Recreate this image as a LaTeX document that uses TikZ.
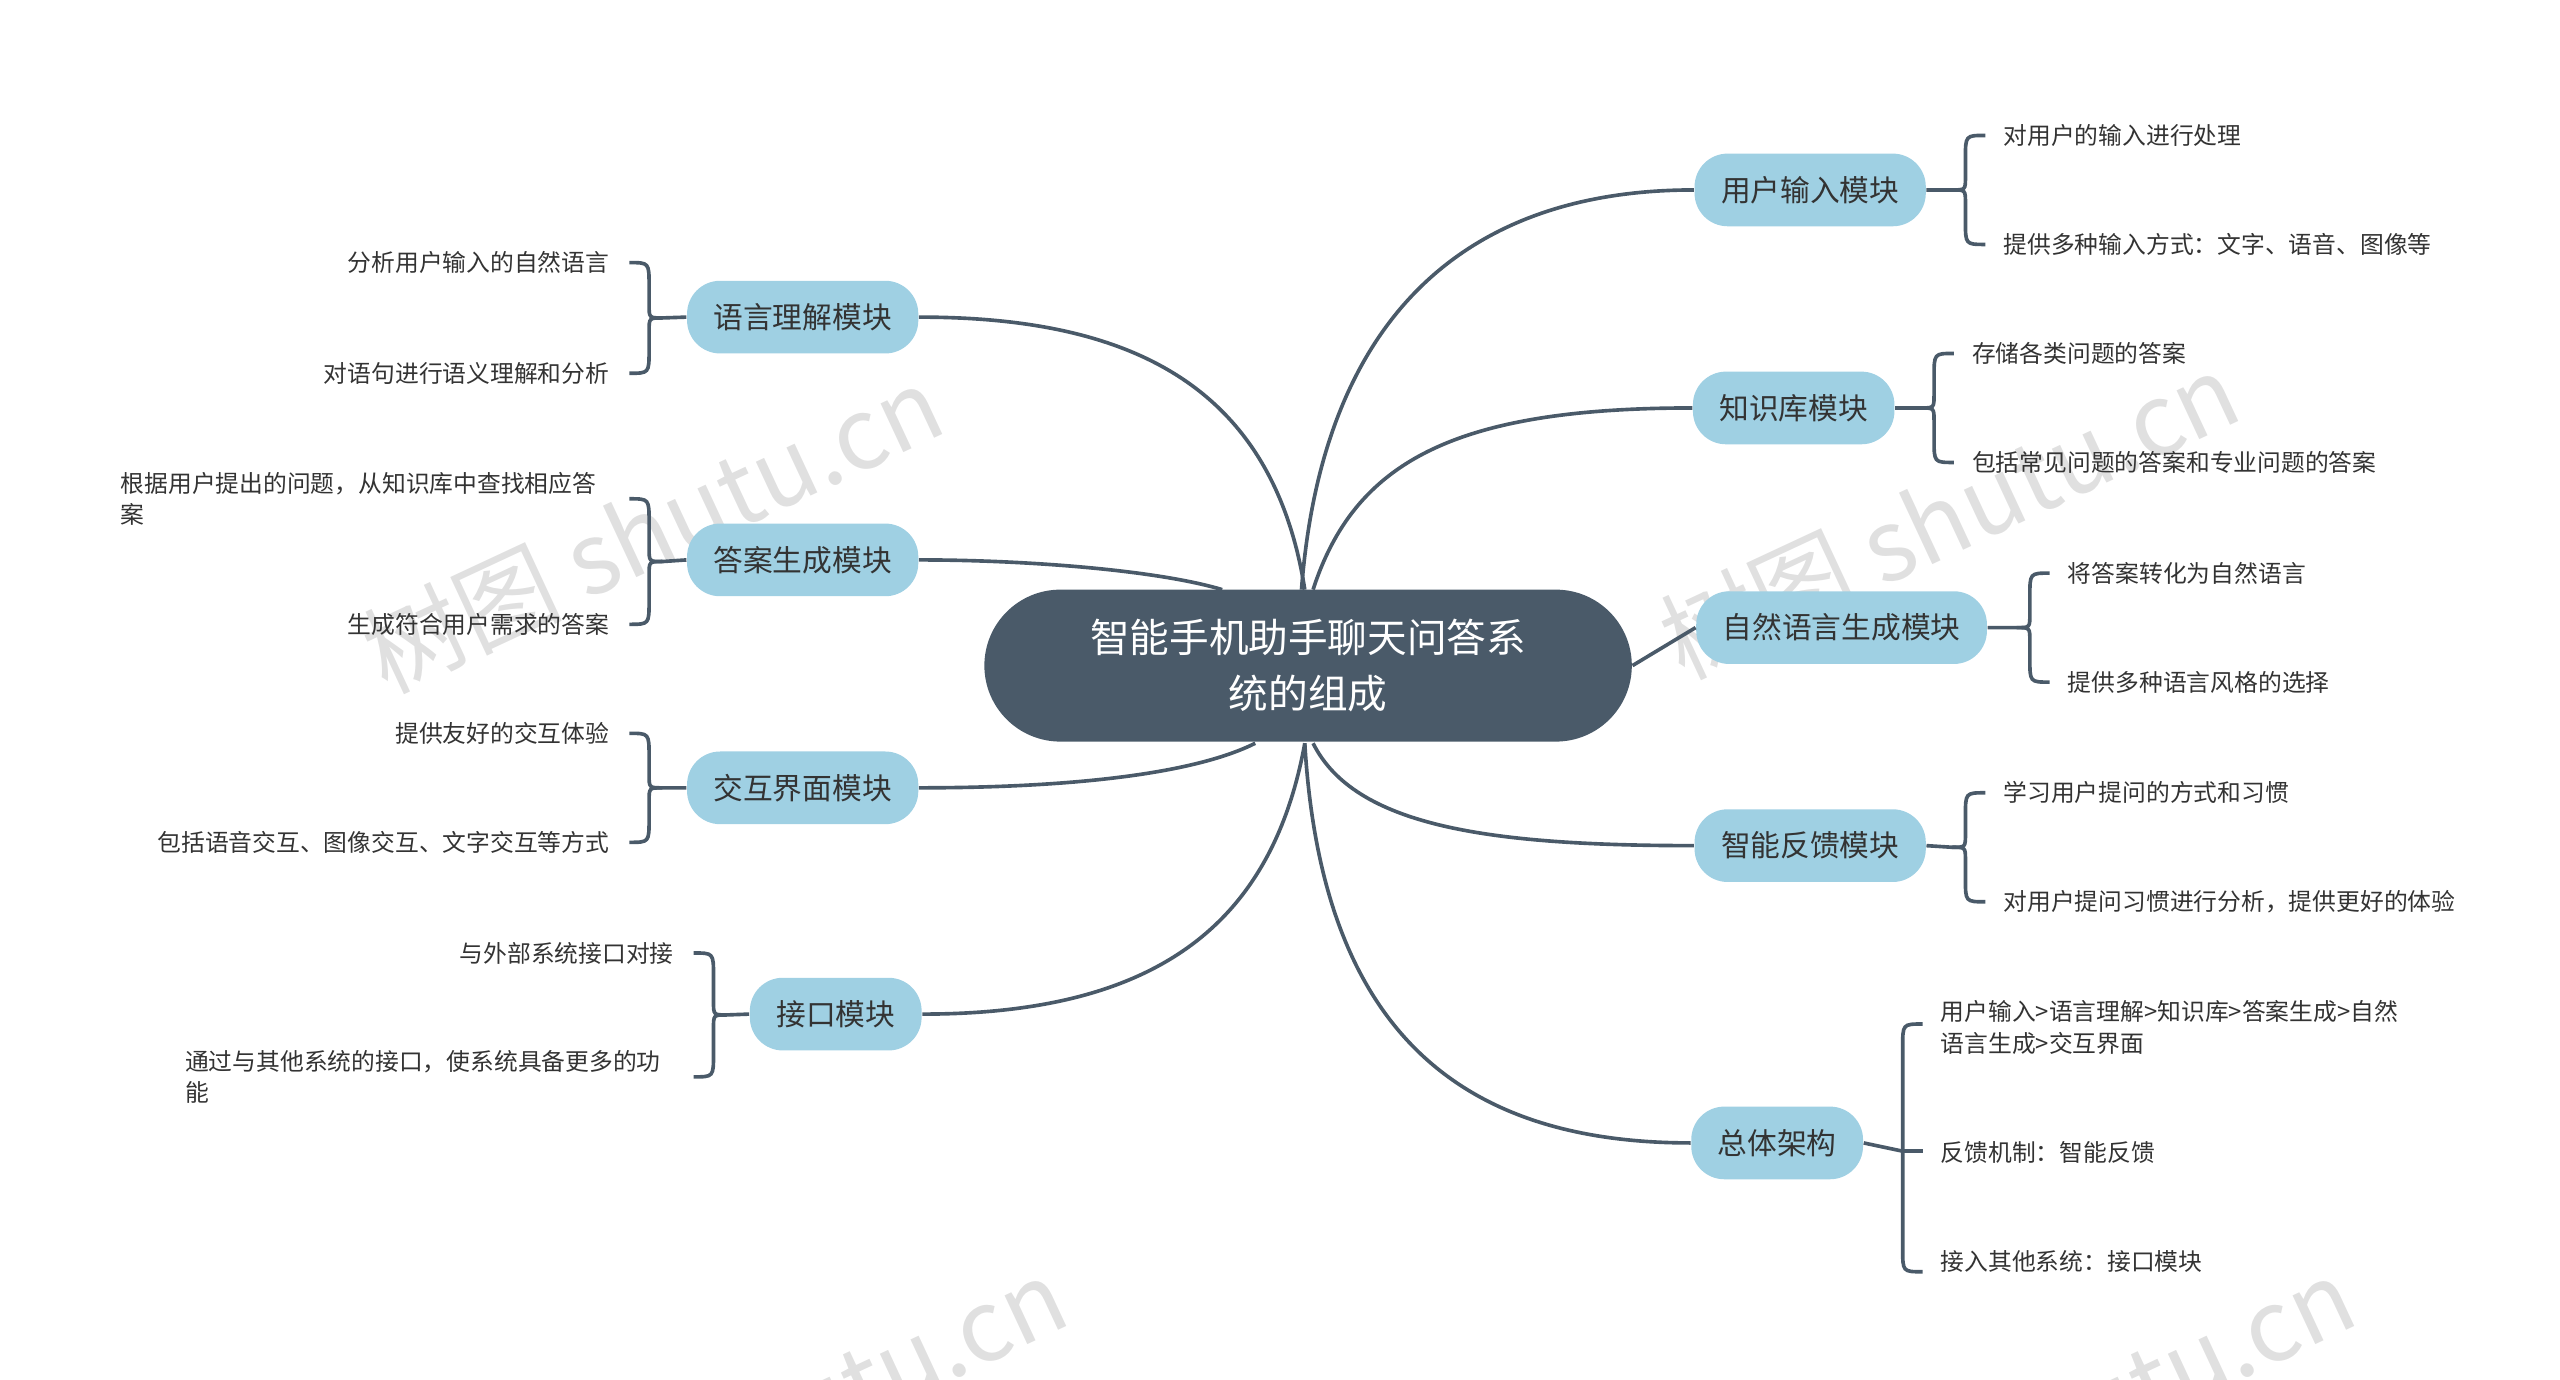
\documentclass[tikz,border=0pt]{standalone}
\usepackage{fontspec}
\setmainfont{Noto Sans CJK SC}
\usetikzlibrary{calc}
\definecolor{ln}{HTML}{4A5A69}
\definecolor{br}{HTML}{9FD0E3}
\definecolor{tx}{HTML}{333333}
\tikzset{
  conn/.style={draw=ln,line width=1.1pt},
  branch/.style={fill=br,rounded corners=10pt,minimum height=22pt,inner xsep=8pt,font=\fontsize{9}{11}\selectfont,text=tx},
  leafr/.style={anchor=west,font=\fontsize{7.2}{9.5}\selectfont,text=tx,align=left},
  leafl/.style={anchor=east,font=\fontsize{7.2}{9.5}\selectfont,text=tx,align=left},
  wm/.style={text=black!12,font=\fontsize{30}{30}\selectfont,rotate=25}
}
\newcommand\rbr[4]{%
 \pgfmathsetmacro\ym{(#3+#4)/2}
 \draw[conn] (#2+12,#3) .. controls (#2,#3) .. (#2,#3+14) -- (#2,\ym-8) .. controls (#2,\ym) .. (#2-8,\ym) -- (#1.east);
 \draw[conn] (#2+12,#4) .. controls (#2,#4) .. (#2,#4-14) -- (#2,\ym+8) .. controls (#2,\ym) .. (#2-8,\ym);}
\newcommand\lbr[4]{%
 \pgfmathsetmacro\ym{(#3+#4)/2}
 \draw[conn] (#2-12,#3) .. controls (#2,#3) .. (#2,#3+14) -- (#2,\ym-8) .. controls (#2,\ym) .. (#2+8,\ym) -- (#1.west);
 \draw[conn] (#2-12,#4) .. controls (#2,#4) .. (#2,#4-14) -- (#2,\ym+8) .. controls (#2,\ym) .. (#2+8,\ym);}
\begin{document}
\begin{tikzpicture}[x=0.5pt,y=-0.5pt]
\useasboundingbox (0,0) rectangle (1550,835);
\clip (0,0) rectangle (1550,835);
\node[wm] (w1) at (395,320) {树图 shutu.cn};
\node[wm] (w2) at (1180,312) {树图 shutu.cn};
\node[wm] (w3) at (470,860) {树图 shutu.cn};
\node[wm] (w4) at (1250,860) {树图 shutu.cn};
\node[fill=ln,rounded corners=23pt,minimum width=196pt,minimum height=46pt,text=white,align=center,font=\fontsize{12}{17}\selectfont] (c) at (792,403) {智能手机助手聊天问答系\\统的组成};
\node[branch] (r1) at (1096,115) {用户输入模块};
\node[branch] (r2) at (1086,247) {知识库模块};
\node[branch] (r3) at (1115,380) {自然语言生成模块};
\node[branch] (r4) at (1096,512) {智能反馈模块};
\node[branch] (r5) at (1076,692) {总体架构};
\node[branch] (l1) at (486,192) {语言理解模块};
\node[branch] (l2) at (486,339) {答案生成模块};
\node[branch] (l3) at (486,477) {交互界面模块};
\node[branch] (l4) at (506,614) {接口模块};
\draw[conn] (788,357) .. controls (800,200) and (880,115) .. (r1.west);
\draw[conn] (795,357) .. controls (820,280) and (880,247) .. (r2.west);
\draw[conn] (c.east) -- (r3.west);
\draw[conn] (795,450) .. controls (820,500) and (900,512) .. (r4.west);
\draw[conn] (790,450) .. controls (800,620) and (880,692) .. (r5.west);
\draw[conn] (790,357) .. controls (770,230) and (680,192) .. (l1.east);
\draw[conn] (740,357) .. controls (700,345) and (620,339) .. (l2.east);
\draw[conn] (760,450) .. controls (720,470) and (640,477) .. (l3.east);
\draw[conn] (790,450) .. controls (770,560) and (700,614) .. (l4.east);
\rbr{r1}{1190}{82}{148}
\rbr{r2}{1171}{214}{280}
\rbr{r3}{1229}{347}{413}
\rbr{r4}{1190}{480}{546}
\draw[conn] (r5.east) -- (1152,697);
\draw[conn] (1164,620) .. controls (1152,620) .. (1152,634) -- (1152,756) .. controls (1152,770) .. (1164,770);
\draw[conn] (1152,697) -- (1164,697);
\lbr{l1}{393}{159}{226}
\lbr{l2}{393}{302}{378}
\lbr{l3}{393}{444}{510}
\lbr{l4}{432}{577}{652}
\node[leafr] (a1) at (1206,82) {对用户的输入进行处理};
\node[leafr] (a2) at (1206,148) {提供多种输入方式：文字、语音、图像等};
\node[leafr] (b1) at (1187,214) {存储各类问题的答案};
\node[leafr] (b2) at (1187,280) {包括常见问题的答案和专业问题的答案};
\node[leafr] (d1) at (1245,347) {将答案转化为自然语言};
\node[leafr] (d2) at (1245,413) {提供多种语言风格的选择};
\node[leafr] (e1) at (1206,480) {学习用户提问的方式和习惯};
\node[leafr] (e2) at (1206,546) {对用户提问习惯进行分析，提供更好的体验};
\node[leafr] (f1) at (1168,622) {用户输入>语言理解>知识库>答案生成>自然\\语言生成>交互界面};
\node[leafr] (f2) at (1168,698) {反馈机制：智能反馈};
\node[leafr] (f3) at (1168,764) {接入其他系统：接口模块};
\node[leafl] (g1) at (376,159) {分析用户输入的自然语言};
\node[leafl] (g2) at (376,226) {对语句进行语义理解和分析};
\node[leafr] (h1) at (66,302) {根据用户提出的问题，从知识库中查找相应答\\案};
\node[leafl] (h2) at (376,378) {生成符合用户需求的答案};
\node[leafl] (i1) at (376,444) {提供友好的交互体验};
\node[leafl] (i2) at (376,510) {包括语音交互、图像交互、文字交互等方式};
\node[leafl] (j1) at (415,577) {与外部系统接口对接};
\node[leafr] (j2) at (105,652) {通过与其他系统的接口，使系统具备更多的功\\能};
\end{tikzpicture}
\end{document}
